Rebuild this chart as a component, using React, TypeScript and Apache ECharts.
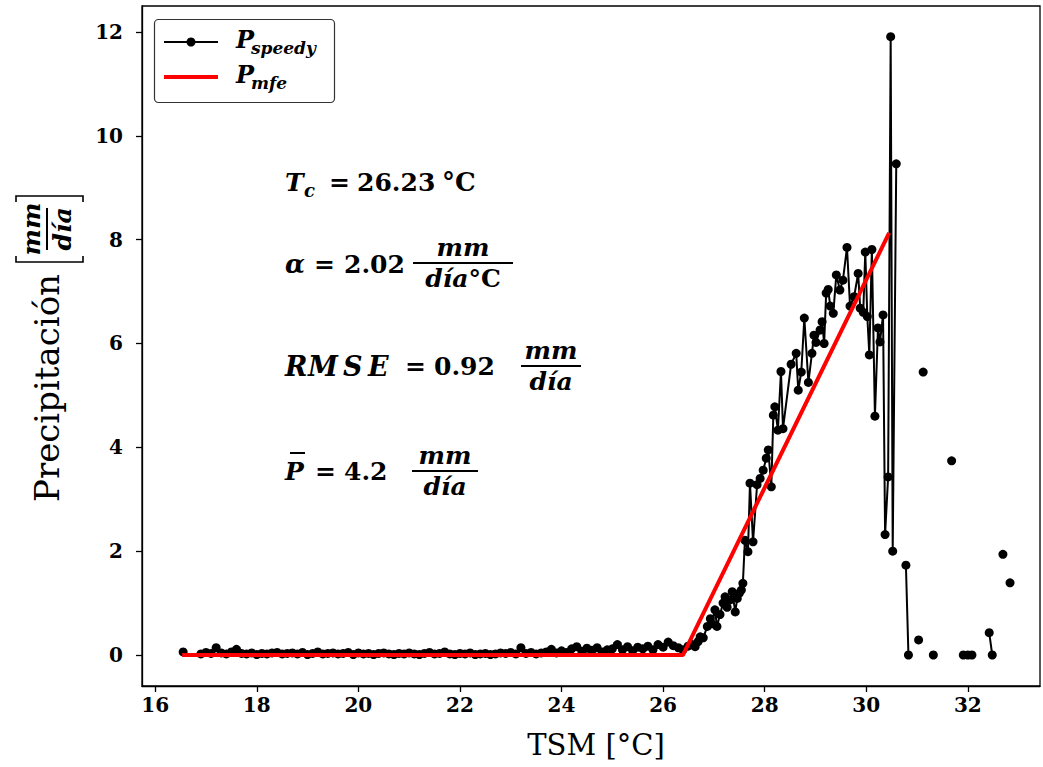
import React, { useEffect, useRef } from "react";
import * as echarts from "echarts";

// ---- data ----
const xTicks = [16, 18, 20, 22, 24, 26, 28, 30, 32];
const yTicks = [0, 2, 4, 6, 8, 10, 12];

// P_speedy: x (TSM °C) and y (mm/día); null = gap in the line
const lowX = [16.55, 16.7,
  16.9, 17.0, 17.1, 17.2, 17.3, 17.4, 17.5, 17.6, 17.7, 17.8, 17.9, 18.0, 18.1, 18.2, 18.3, 18.4, 18.5, 18.6, 18.7, 18.8, 18.9,
  19.0, 19.1, 19.2, 19.3, 19.4, 19.5, 19.6, 19.7, 19.8, 19.9, 20.0, 20.1, 20.2, 20.3, 20.4, 20.5, 20.6, 20.7, 20.8, 20.9,
  21.0, 21.1, 21.2, 21.3, 21.4, 21.5, 21.6, 21.7, 21.8, 21.9, 22.0, 22.1, 22.2, 22.3, 22.4, 22.5, 22.6, 22.7, 22.8, 22.9,
  23.0, 23.1, 23.2, 23.3, 23.4, 23.5, 23.6, 23.7, 23.8, 23.9, 24.0, 24.1, 24.2, 24.3, 24.4, 24.5, 24.6, 24.7, 24.8, 24.9,
  25.0, 25.1, 25.2, 25.3, 25.4, 25.5, 25.6, 25.7, 25.8, 25.9, 26.0, 26.1, 26.2, 26.3];
const lowY = [0.06, null,
  0.02, 0.05, 0.03, 0.14, 0.04, 0.02, 0.06, 0.11, 0.03, 0.02, 0.04, 0.01, 0.03, 0.02, 0.04, 0.05, 0.02, 0.03, 0.04, 0.02, 0.05,
  0.01, 0.03, 0.06, 0.02, 0.03, 0.04, 0.02, 0.03, 0.05, 0.01, 0.04, 0.02, 0.03, 0.01, 0.03, 0.04, 0.02, 0.01, 0.03, 0.02,
  0.04, 0.02, 0.01, 0.03, 0.05, 0.02, 0.03, 0.06, 0.02, 0.01, 0.03, 0.02, 0.04, 0.01, 0.02, 0.03, 0.01, 0.02, 0.04, 0.03,
  0.05, 0.02, 0.14, 0.03, 0.05, 0.02, 0.04, 0.06, 0.11, 0.04, 0.08, 0.05, 0.12, 0.16, 0.07, 0.13, 0.09, 0.14, 0.06, 0.1,
  0.12, 0.2, 0.1, 0.16, 0.08, 0.15, 0.12, 0.17, 0.1, 0.2, 0.15, 0.25, 0.18, 0.14];

const riseX = [26.39, 26.49, 26.57, 26.63, 26.69, 26.73, 26.79, 26.87, 26.93, 26.96, 27.02, 27.06, 27.12, 27.18, 27.22, 27.26,
  27.32, 27.36, 27.42, 27.46, 27.5, 27.54, 27.57, 27.61, 27.67, 27.71, 27.77, 27.85, 27.91, 27.97, 28.03, 28.07, 28.13,
  28.17, 28.2, 28.26, 28.32, 28.36, 28.52, 28.62, 28.66, 28.72, 28.78, 28.86, 28.93, 28.97, 29.01, 29.09, 29.13, 29.17,
  29.21, 29.25, 29.29, 29.35, 29.41, 29.48, 29.54, 29.62, 29.68, 29.76, 29.84, 29.88, 29.94, 29.98, 30.02, 30.06, 30.11,
  30.17, 30.23, 30.27, 30.33, 30.37, 30.43, 30.48, 30.52, 30.59];
const riseY = [0.1, 0.17, 0.2, 0.16, 0.26, 0.35, 0.33, 0.55, 0.7, 0.6, 0.87, 0.55, 0.78, 1.0, 1.12, 0.92,
  1.06, 1.22, 0.83, 1.09, 1.19, 1.25, 1.38, 2.21, 1.99, 3.31, 2.18, 3.28, 3.4, 3.56, 3.79, 3.95, 3.24,
  4.62, 4.78, 4.33, 5.46, 4.36, 5.6, 5.81, 5.1, 5.45, 6.49, 5.25, 5.81, 6.16, 6.02, 6.26, 6.42, 6.0,
  6.97, 7.04, 6.72, 6.58, 7.32, 7.03, 7.22, 7.85, 6.72, 6.9, 7.35, 6.68, 6.6, 7.76, 6.52, 5.78, 7.81,
  4.6, 6.3, 6.03, 6.55, 2.32, 3.43, 11.91, 2.0, 9.46];

const tailX = [30.7, 30.78, 30.83, 30.9, 31.03, 31.08, 31.12, 31.2, 31.32, 31.5, 31.68, 31.8, 31.91, 32.0, 32.08, 32.3, 32.42, 32.48, 32.6, 32.69, 32.76, 32.83];
const tailY = [null, 1.73, 0.0, null, 0.29, null, 5.45, null, 0.0, null, 3.74, null, 0.0, 0.0, 0.0, null, 0.43, 0.0, null, 1.94, null, 1.39];

// P_mfe fitted line
const mfeX = [16.53, 26.39, 30.45];
const mfeY = [0, 0, 8.13];

const SERIF = '"DejaVu Serif", serif';

function txt(x: number, y: number, text: string, size: number, o: any = {}) {
  return {
    type: "text",
    x,
    y,
    z: 100,
    style: {
      text,
      fontSize: size,
      fontFamily: SERIF,
      fontWeight: o.weight ?? "bold",
      fontStyle: o.style ?? "normal",
      fill: "#000",
      align: o.align ?? "left",
      verticalAlign: o.va ?? "middle",
      rich: o.rich,
    },
  };
}

function hline(x1: number, x2: number, y: number, w = 2, color = "#000") {
  return { type: "line", z: 100, shape: { x1, y1: y, x2, y2: y }, style: { stroke: color, lineWidth: w } };
}

function frac(cx: number, yBar: number, halfW: number, num: any, den: any, size: number) {
  return [
    { ...txt(cx, yBar - 3, num, size, { style: "italic", align: "center", va: "bottom" }) },
    hline(cx - halfW, cx + halfW, yBar, 2),
    { ...den, x: cx, y: yBar + 3 },
  ];
}

export default function App() {
  const ref = useRef<HTMLDivElement>(null);
  useEffect(() => {
    if (!ref.current) return;
    const chart = echarts.init(ref.current, null, { renderer: "svg" });
    const toPt = (xs: number[], ys: (number | null)[]) => xs.map((x, i) => [x, ys[i] === null ? "-" : ys[i]]);
    const speedy = [...toPt(lowX, lowY), ...toPt(riseX, riseY), ...toPt(tailX, tailY)];
    const mfe = mfeX.map((x, i) => [x, mfeY[i]]);

    const denDia = (size: number) =>
      txt(0, 0, "día", size, { style: "italic", align: "center", va: "top" });
    const denDiaC = (size: number) =>
      txt(0, 0, "{i|día}{u|°C}", size, {
        align: "center",
        va: "top",
        rich: {
          i: { fontSize: size, fontFamily: SERIF, fontWeight: "bold", fontStyle: "italic" },
          u: { fontSize: size, fontFamily: SERIF, fontWeight: "bold" },
        },
      });

    const S = 25;
    const graphic: any[] = [
      // legend
      {
        type: "rect",
        z: 100,
        shape: { x: 154.5, y: 19.5, width: 180, height: 83, r: 4 },
        style: { fill: "#fff", stroke: "#333", lineWidth: 1.2 },
      },
      hline(164, 218, 42, 2),
      { type: "circle", z: 101, shape: { cx: 191, cy: 42, r: 4.5 }, style: { fill: "#000" } },
      hline(164, 218, 77, 4, "#ff0000"),
      txt(236, 39, "P", 24, { style: "italic" }),
      txt(251, 48, "speedy", 17, { style: "italic" }),
      txt(236, 74, "P", 24, { style: "italic" }),
      txt(251, 83, "mfe", 17, { style: "italic" }),

      // T_c
      txt(285, 182, "T", S, { style: "italic" }),
      txt(304, 190, "c", 18, { style: "italic" }),
      txt(329, 182, "=", S),
      txt(357, 182, "26.23", S),
      txt(442, 182, "°C", S + 1),

      // alpha
      txt(285, 264, "α", S + 1, { style: "italic" }),
      txt(314, 264, "=", S),
      txt(344, 264, "2.02", S),
      ...frac(463, 263, 50, "mm", denDiaC(S), S),

      // RMSE (letters placed individually for math spacing)
      txt(285, 366, "R", 27, { style: "italic" }),
      txt(308, 366, "M", 27, { style: "italic" }),
      txt(343, 366, "S", 27, { style: "italic" }),
      txt(368, 366, "E", 27, { style: "italic" }),
      txt(405, 366, "=", S),
      txt(434, 366, "0.92", S),
      ...frac(551, 366, 30, "mm", denDia(S), S),

      // P bar
      txt(285, 471, "P", S, { style: "italic" }),
      hline(290, 305, 453, 2),
      txt(315, 471, "=", S),
      txt(344, 471, "4.2", S),
      ...frac(445, 471, 33, "mm", denDia(S), S),

      // x axis title
      txt(596, 745, "TSM [°C]", 29, { weight: "normal", align: "center" }),

      // y axis title (rotated)
      {
        type: "group",
        x: 47,
        y: 502,
        rotation: Math.PI / 2,
        children: [
          { ...txt(0, 0, "Precipitación", 34, { weight: "normal" }) },
          {
            type: "polyline",
            z: 100,
            shape: { points: [[246, -31], [240, -31], [240, 36], [246, 36]] },
            style: { stroke: "#000", lineWidth: 1.6, fill: "none" },
          },
          { ...txt(273, -3, "mm", 25, { style: "italic", align: "center", va: "bottom" }) },
          { type: "line", z: 100, shape: { x1: 252, y1: 0, x2: 294, y2: 0 }, style: { stroke: "#000", lineWidth: 2 } },
          { ...txt(273, 3, "día", 25, { style: "italic", align: "center", va: "top" }) },
          {
            type: "polyline",
            z: 100,
            shape: { points: [[300, -31], [306, -31], [306, 36], [300, 36]] },
            style: { stroke: "#000", lineWidth: 1.6, fill: "none" },
          },
        ],
      },
    ];

    chart.setOption({
      animation: false,
      grid: {
        left: 142,
        top: 6,
        right: 3,
        bottom: 81,
        show: true,
        borderColor: "#000",
        borderWidth: 1.3,
        backgroundColor: "#fff",
      },
      xAxis: {
        type: "value",
        min: 15.74,
        max: 33.42,
        axisLine: { show: true, onZero: false, lineStyle: { color: "#000", width: 1.3 } },
        axisTick: { show: true, customValues: xTicks, length: 6, lineStyle: { color: "#000", width: 1.3 } },
        axisLabel: {
          customValues: xTicks,
          margin: 9,
          fontFamily: SERIF,
          fontWeight: "bold",
          fontSize: 20,
          color: "#000",
        },
        splitLine: { show: false },
      },
      yAxis: {
        type: "value",
        min: -0.597,
        max: 12.5,
        axisLine: { show: true, onZero: false, lineStyle: { color: "#000", width: 1.3 } },
        axisTick: { show: true, customValues: yTicks, length: 6, lineStyle: { color: "#000", width: 1.3 } },
        axisLabel: {
          customValues: yTicks,
          margin: 19,
          fontFamily: SERIF,
          fontWeight: "bold",
          fontSize: 20,
          color: "#000",
        },
        splitLine: { show: false },
      },
      series: [
        {
          name: "P_speedy",
          type: "line",
          data: speedy,
          connectNulls: false,
          symbol: "circle",
          symbolSize: 9,
          showSymbol: true,
          showAllSymbol: true,
          itemStyle: { color: "#000" },
          lineStyle: { color: "#000", width: 2 },
          z: 2,
        },
        {
          name: "P_mfe",
          type: "line",
          data: mfe,
          showSymbol: false,
          symbol: "none",
          lineStyle: { color: "#ff0000", width: 4 },
          z: 3,
        },
      ],
      graphic,
    });
    return () => chart.dispose();
  }, []);
  return (
    <div
      ref={ref}
      style={{ position: "fixed", left: 0, top: 0, width: 1043, height: 767, background: "#fff" }}
    />
  );
}
